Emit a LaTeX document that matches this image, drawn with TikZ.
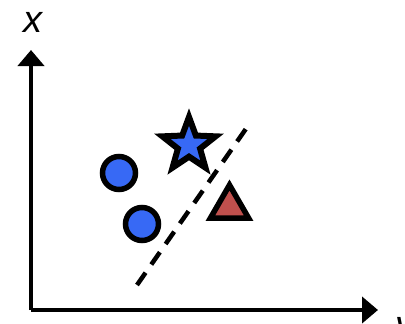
\documentclass[tikz,border=0pt]{standalone}
\usepackage{fontspec}
\setmainfont{Liberation Sans}
\usetikzlibrary{shapes.geometric,arrows.meta}
\definecolor{ptblue}{RGB}{55,105,245}
\definecolor{ptred}{RGB}{192,80,77}
\tikzset{
  axis/.style={line width=4.5pt,-{Triangle[length=16pt,width=26pt]}},
  dot/.style={circle,draw=black,line width=5.5pt,fill=ptblue,minimum size=33pt,inner sep=0pt},
  starpt/.style={star,star points=5,star point ratio=2.4,draw=black,line width=6pt,fill=ptblue,minimum size=56pt,inner sep=0pt,miter limit=10},
  tript/.style={regular polygon,regular polygon sides=3,draw=black,line width=5.5pt,fill=ptred,minimum size=44pt,inner sep=0pt},
  sep/.style={line width=4.5pt,dash pattern=on 15pt off 10pt},
  lbl/.style={font=\fontsize{38}{38}\selectfont\itshape,inner sep=0pt}
}
\begin{document}
\begin{tikzpicture}[x=1pt,y=-1pt]
\useasboundingbox (0,0) rectangle (405,324);
\coordinate (o) at (31,310);
\coordinate (ytip) at (31,50);
\coordinate (xtip) at (378,310);
\draw[axis] (o) -- (ytip);
\draw[axis] (o) -- (xtip);
\node[lbl] (xl) at (33,22) {x};
\node[lbl,anchor=base west] (yl) at (395,337) {y};
\coordinate (s1) at (137,285);
\coordinate (s2) at (250,123);
\draw[sep] (s1) -- (s2);
\node[dot] (c1) at (119,173) {};
\node[dot] (c2) at (142,224) {};
\node[starpt] (st) at (189,145) {};
\node[tript] (tr) at (229.5,207) {};
\end{tikzpicture}
\end{document}
